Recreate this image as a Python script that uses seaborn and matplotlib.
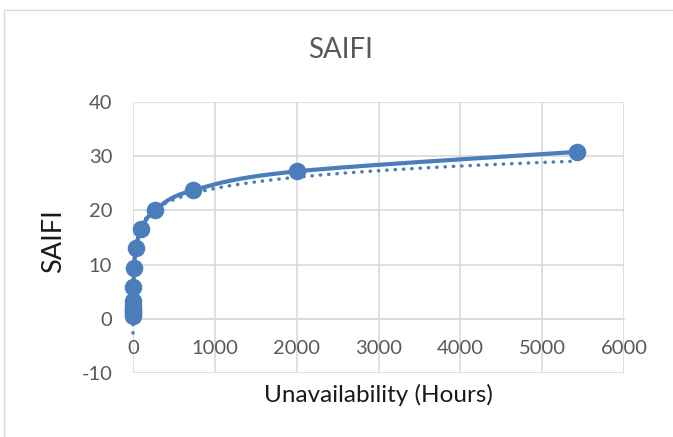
import numpy as np
import pandas as pd
import matplotlib
matplotlib.use("Agg")
import matplotlib.pyplot as plt
from matplotlib.patches import Rectangle
import seaborn as sns

# Unavailability (hours) and the resulting SAIFI for each case
unavailability = [0.13, 0.25, 0.4, 0.6, 1.0, 1.6, 5, 13.5, 36.6, 100, 270, 730, 2000, 5430]
saifi = [0.6, 1.0, 1.4, 1.9, 2.4, 3.2, 5.8, 9.4, 13.0, 16.5, 20.1, 23.7, 27.2, 30.8]

x_ticks = [0, 1000, 2000, 3000, 4000, 5000, 6000]
y_ticks = [-10, 0, 10, 20, 30, 40]

BLUE = "#4a7ebb"
GRID = "#d9d9d9"
TEXT = "#595959"

sns.set_theme(style="white")
plt.rcParams["font.family"] = ["Lato", "DejaVu Sans"]

df = pd.DataFrame({"x": unavailability, "y": saifi})


def smooth_curve(xs, ys, sx, sy, n=40):
    """Catmull-Rom style smoothing through the points (in scaled space)."""
    px = np.asarray(xs, float) / sx
    py = np.asarray(ys, float) / sy
    pts = np.column_stack([px, py])
    pts = np.vstack([pts[0], pts, pts[-1]])
    out = []
    for i in range(1, len(pts) - 2):
        p0, p1, p2, p3 = pts[i - 1], pts[i], pts[i + 1], pts[i + 2]
        c1 = p1 + (p2 - p0) / 6.0
        c2 = p2 - (p3 - p1) / 6.0
        t = np.linspace(0, 1, n)[:, None]
        seg = ((1 - t) ** 3) * p1 + 3 * ((1 - t) ** 2) * t * c1 + 3 * (1 - t) * t ** 2 * c2 + t ** 3 * p2
        out.append(seg if i == 1 else seg[1:])
    arr = np.vstack(out)
    return arr[:, 0] * sx, arr[:, 1] * sy


cx, cy = smooth_curve(df["x"], df["y"], 6000.0, 50.0)
curve = pd.DataFrame({"x": cx, "y": cy})

# Logarithmic trendline fitted to the data
a, b = np.polyfit(np.log(df["x"]), df["y"], 1)
tx = np.exp(np.linspace(np.log(df["x"].min()), np.log(df["x"].max()), 400))
trend = pd.DataFrame({"x": tx, "y": a * np.log(tx) + b})

fig = plt.figure(figsize=(6.73, 4.37), dpi=100)
fig.patches.append(Rectangle((4 / 673, -0.05), 1.2, 1 - 10 / 437 + 0.05,
                             transform=fig.transFigure, fill=False,
                             edgecolor="#d9d9d9", linewidth=1.0))
ax = fig.add_axes([133 / 673, 1 - 373 / 437, (624 - 133) / 673, (373 - 102) / 437])

sns.lineplot(data=trend, x="x", y="y", ax=ax, color=BLUE, linewidth=2.5,
             linestyle=(0, (0.1, 2.3)), dash_capstyle="round", sort=False,
             estimator=None, zorder=3, clip_on=False)
sns.lineplot(data=curve, x="x", y="y", ax=ax, color=BLUE, linewidth=3.0,
             sort=False, estimator=None, zorder=4, clip_on=False)
sns.scatterplot(data=df, x="x", y="y", ax=ax, color=BLUE, s=160,
                edgecolor=BLUE, linewidth=0, zorder=5, clip_on=False)

ax.set_xlim(0, 6000)
ax.set_ylim(-10, 40)
ax.set_xticks(x_ticks)
ax.set_yticks(y_ticks)
ax.set_xticklabels([str(v) for v in x_ticks])
ax.set_yticklabels([str(v) for v in y_ticks])
ax.grid(True, color=GRID, linewidth=1.2)
ax.set_axisbelow(True)
for side in ["top", "right", "left"]:
    ax.spines[side].set_visible(False)
ax.spines["bottom"].set_position(("data", 0))
ax.spines["bottom"].set_color(GRID)
ax.spines["bottom"].set_linewidth(1.2)
ax.tick_params(axis="both", length=0, labelsize=14.5, colors=TEXT)
ax.tick_params(axis="y", pad=15)
ax.tick_params(axis="x", pad=15)

ax.set_xlabel("")
ax.set_ylabel("")
fig.text(378 / 673, 1 - 395 / 437, "Unavailability (Hours)", ha="center",
         va="center", fontsize=17.5, color="#1a1a1a")
fig.text(54 / 673, 1 - 241 / 437, "SAIFI", ha="center", va="center",
         rotation=90, fontsize=19.5, color="#1a1a1a")
fig.text(341 / 673, 1 - 50 / 437, "SAIFI", ha="center", va="center",
         fontsize=20, color=TEXT)

fig.savefig("out.png", dpi=100, facecolor="white")
